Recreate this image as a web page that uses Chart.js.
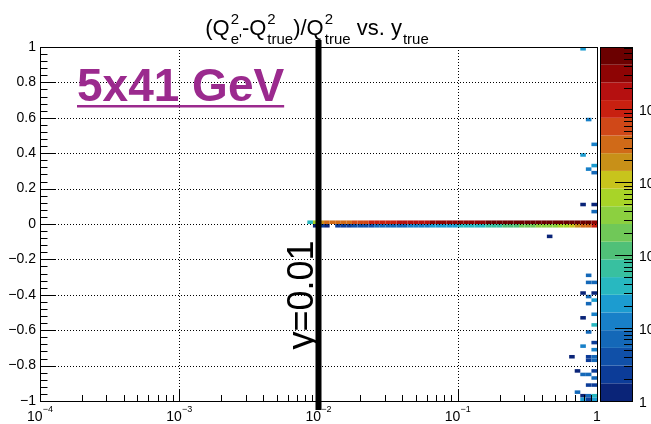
<!DOCTYPE html>
<html><head><meta charset="utf-8">
<script src="https://cdn.jsdelivr.net/npm/chart.js@4.4.1/dist/chart.umd.min.js"></script>
<style>html,body{margin:0;padding:0;background:#fff;overflow:hidden}canvas{display:block}</style>
</head><body>
<div style="width:651px;height:424px"><canvas id="c" width="651" height="424"></canvas></div>
<script>
// ---- binning ----
const xLogMin = -4, xLogMax = 0, nXBins = 100;
const yMin = -1, yMax = 1, nYBins = 100;
const zMin = 1, zMax = 72000;

// ---- tick labels ----
const xTickValues = [1e-4, 1e-3, 1e-2, 1e-1, 1];
const xTickBases  = ['10', '10', '10', '10', '1'];
const xTickExps   = ['−4', '−3', '−2', '−1', ''];
const yTickValues = [-1, -0.8, -0.6, -0.4, -0.2, 0, 0.2, 0.4, 0.6, 0.8, 1];
const yTickLabels = ['−1', '−0.8', '−0.6', '−0.4', '−0.2', '0', '0.2', '0.4', '0.6', '0.8', '1'];
const zTickValues = [1, 10, 100, 1000, 10000];
const zTickBases  = ['1', '10', '10', '10', '10'];
const zTickExps   = ['', '', '2', '3', '4'];

// ---- palette (low -> high) ----
const palette = ['#0a2478','#0c3c98','#1050a8','#1468b8','#1880c8','#1c9cd0','#28b8c0','#38c0a0',
                 '#50c078','#70c858','#8cd040','#a8d428','#c8c41c','#c89018','#d06a18','#d04818',
                 '#c82010','#b51010','#8e0404','#6b0000'];

// ---- histogram contents ----
// row y in [0, 0.02): x bins 48..99
const rowUpperStart = 48;
const rowUpper = [40,600,1500,2800,3100,3400,3800,4300,6000,6800,7500,8300,9200,10500,11500,12500,
  13500,15000,16500,19000,21000,23000,25000,27000,29000,30000,31000,33000,35000,37000,39000,41000,
  43000,46000,49000,52000,55000,57000,59000,60000,62000,63000,64000,65000,66000,66000,65000,64000,
  62000,58000,50000,40000];
// row y in [-0.02, 0): x bins 49..99
const rowLowerStart = 49;
const rowLower = [1,2,1,0,2,3,3,4,4,5,5,6,6,7,8,8,9,10,12,14,15,17,19,21,23,26,30,34,38,43,50,58,
  70,85,100,120,140,165,195,230,270,310,360,430,520,650,850,1900,2800,4000,10000];
// isolated cells: [x bin, y bin, count]
const isolated = [[97,99,25],[98,79,10],[99,72,10],[97,69,25],[98,65,10],[99,66,20],[99,64,8],
  [97,55,1],[99,55,1],[99,53,8],[91,46,1],[98,35,6],[98,33,8],[99,33,8],[97,30,1],[99,30,1],
  [98,29,6],[99,28,20],[98,27,8],[97,23,1],[99,24,10],[99,21,40],[98,19,8],[99,16,2],[97,15,15],
  [99,14,10],[95,12,1],[98,12,2],[98,11,2],[99,12,6],[99,11,8],[96,8,1],[97,7,6],[98,7,8],
  [99,8,2],[99,6,6],[98,4,2],[99,4,2],[96,2,6],[97,1,1],[98,1,8],[99,1,30],[98,0,2],[99,0,20],[97,0,20]];

const upperRowBin = 50, lowerRowBin = 49;
const cutValue = 0.01;

// build cell list
const dxLog = (xLogMax - xLogMin) / nXBins, dy = (yMax - yMin) / nYBins;
const cells = [];
function addCell(i, j, v) { if (v >= zMin) cells.push({i, j, v, x: Math.pow(10, xLogMin + (i + 0.5) * dxLog), y: yMin + (j + 0.5) * dy}); }
rowUpper.forEach((v, k) => addCell(rowUpperStart + k, upperRowBin, v));
rowLower.forEach((v, k) => addCell(rowLowerStart + k, lowerRowBin, v));
isolated.forEach(c => addCell(c[0], c[1], c[2]));

const FONT = '"Liberation Sans", Arial, Helvetica, sans-serif';

const drawPlugin = {
  id: 'root2d',
  beforeDraw(chart) {
    const ctx = chart.ctx;
    ctx.save(); ctx.fillStyle = '#fff'; ctx.fillRect(0, 0, chart.width, chart.height); ctx.restore();
  },
  afterDatasetsDraw(chart) {
    const ctx = chart.ctx, xs = chart.scales.x, ys = chart.scales.y, zs = chart.scales.z;
    const a = chart.chartArea;
    const nCol = palette.length;
    const colorFor = v => {
      const f = (zs.bottom - zs.getPixelForValue(v)) / (zs.bottom - zs.top);
      return palette[Math.max(0, Math.min(nCol - 1, Math.floor(f * nCol)))];
    };
    ctx.save();
    // cells
    cells.forEach(c => {
      const x0 = xs.getPixelForValue(Math.pow(10, xLogMin + c.i * dxLog));
      const x1 = xs.getPixelForValue(Math.pow(10, xLogMin + (c.i + 1) * dxLog));
      const y0 = ys.getPixelForValue(yMin + c.j * dy);
      const y1 = ys.getPixelForValue(yMin + (c.j + 1) * dy);
      ctx.fillStyle = colorFor(c.v);
      ctx.fillRect(x0, y1, x1 - x0, y0 - y1);
    });
    // grid (dotted)
    ctx.strokeStyle = '#000'; ctx.lineWidth = 1; ctx.setLineDash([1, 2]);
    xTickValues.forEach(v => {
      if (v <= xs.min || v >= xs.max) return;
      const px = Math.round(xs.getPixelForValue(v)) + 0.5;
      ctx.beginPath(); ctx.moveTo(px, a.top); ctx.lineTo(px, a.bottom); ctx.stroke();
    });
    yTickValues.forEach(v => {
      if (v <= ys.min || v >= ys.max) return;
      const py = Math.round(ys.getPixelForValue(v)) + 0.5;
      ctx.beginPath(); ctx.moveTo(a.left, py); ctx.lineTo(a.right, py); ctx.stroke();
    });
    ctx.setLineDash([]);
    // frame
    ctx.strokeRect(Math.round(a.left) + 0.5, Math.round(a.top) + 0.5, Math.round(a.right - a.left), Math.round(a.bottom - a.top));
    // x ticks (inward), log minor
    ctx.beginPath();
    for (let d = xLogMin; d < xLogMax; d++) {
      for (let m = 1; m <= 9; m++) {
        const v = m * Math.pow(10, d);
        const px = Math.round(xs.getPixelForValue(v)) + 0.5;
        const len = m === 1 ? 11 : 6;
        ctx.moveTo(px, a.bottom); ctx.lineTo(px, a.bottom - len);
      }
    }
    // y ticks
    for (let k = 0; k <= 50; k++) {
      const v = yMin + k * 0.04;
      const py = Math.round(ys.getPixelForValue(v)) + 0.5;
      const len = (k % 5 === 0) ? 15 : 7.5;
      ctx.moveTo(a.left, py); ctx.lineTo(a.left + len, py);
    }
    ctx.stroke();
    // colour bar
    const cbL = 600, cbR = 632;
    const zl0 = Math.log10(zMin), zl1 = Math.log10(zMax);
    for (let k = 0; k < nCol; k++) {
      const vb = Math.pow(10, zl0 + (zl1 - zl0) * k / nCol), vt = Math.pow(10, zl0 + (zl1 - zl0) * (k + 1) / nCol);
      const yb = zs.getPixelForValue(vb), yt = zs.getPixelForValue(vt);
      ctx.fillStyle = palette[k];
      ctx.fillRect(cbL, yt, cbR - cbL, yb - yt);
    }
    ctx.strokeStyle = '#000';
    ctx.strokeRect(cbL + 0.5, Math.round(zs.top) + 0.5, cbR - cbL, Math.round(zs.bottom - zs.top));
    ctx.beginPath();
    for (let d = 0; d < 5; d++) {
      for (let m = 1; m <= 9; m++) {
        const v = m * Math.pow(10, d);
        if (v > zMax) break;
        const py = Math.round(zs.getPixelForValue(v)) + 0.5;
        const len = m === 1 ? 17 : 8;
        ctx.moveTo(cbR, py); ctx.lineTo(cbR - len, py);
      }
    }
    ctx.stroke();
    // black line at y = 0.01
    const lx = xs.getPixelForValue(cutValue);
    ctx.fillStyle = '#000';
    ctx.fillRect(lx - 3, 40, 6, 370);

    // labels
    ctx.fillStyle = '#000';
    ctx.textBaseline = 'middle'; ctx.textAlign = 'right';
    ctx.font = '14px ' + FONT;
    yTickValues.forEach((v, k) => ctx.fillText(yTickLabels[k], 36, ys.getPixelForValue(v)));
    // x labels with exponents
    ctx.textBaseline = 'alphabetic'; ctx.textAlign = 'left';
    xTickValues.forEach((v, k) => {
      const px = xs.getPixelForValue(v);
      ctx.font = '14px ' + FONT; const wb = ctx.measureText(xTickBases[k]).width;
      ctx.font = '9px ' + FONT; const we = xTickExps[k] ? ctx.measureText(xTickExps[k]).width : 0;
      const x0 = px - (wb + we) / 2;
      ctx.font = '14px ' + FONT; ctx.fillText(xTickBases[k], x0, 421);
      if (we) { ctx.font = '9px ' + FONT; ctx.fillText(xTickExps[k], x0 + wb, 412); }
    });
    // colour bar labels
    zTickValues.forEach((v, k) => {
      const py = zs.getPixelForValue(v);
      ctx.font = '14px ' + FONT; ctx.fillText(zTickBases[k], 639, py + 6);
      if (zTickExps[k]) { const wb = ctx.measureText(zTickBases[k]).width; ctx.font = '10px ' + FONT; ctx.fillText(zTickExps[k], 639 + wb, py - 3); }
    });
    // title
    drawTitle(ctx, 317);
    // energy label
    ctx.fillStyle = '#9b2a8e';
    ctx.font = 'bold 46px ' + FONT;
    ctx.textAlign = 'left';
    const lbl = '5x41 GeV';
    const lw = ctx.measureText(lbl).width;
    ctx.fillText(lbl, 77, 101);
    ctx.fillRect(77, 105, lw, 2.5);
    // rotated cut label
    ctx.save();
    ctx.fillStyle = '#000';
    ctx.translate(313, 295);
    ctx.rotate(-Math.PI / 2);
    ctx.font = '36px ' + FONT; ctx.textAlign = 'center'; ctx.textBaseline = 'alphabetic';
    ctx.fillText('y=0.01', 0, 0);
    ctx.restore();
    ctx.restore();
  }
};

function drawTitle(ctx, cx) {
  const parts = [{t: '(Q'}, {sup: '2', sub: "e'"}, {t: '-Q'}, {sup: '2', sub: 'true'}, {t: ')/Q'},
                 {sup: '2', sub: 'true'}, {t: ' vs. y'}, {sub: 'true'}];
  const big = '22px ' + FONT, small = '15px ' + FONT;
  const widths = parts.map(p => {
    if (p.t) { ctx.font = big; return ctx.measureText(p.t).width; }
    ctx.font = small;
    return Math.max(p.sup ? ctx.measureText(p.sup).width : 0, p.sub ? ctx.measureText(p.sub).width : 0) + 1;
  });
  const total = widths.reduce((s, w) => s + w, 0);
  let x = cx - total / 2;
  ctx.fillStyle = '#000'; ctx.textAlign = 'left'; ctx.textBaseline = 'alphabetic';
  parts.forEach((p, k) => {
    if (p.t) { ctx.font = big; ctx.fillText(p.t, x, 35); }
    else {
      ctx.font = small;
      if (p.sup) ctx.fillText(p.sup, x + 1, 24);
      if (p.sub) ctx.fillText(p.sub, x + 1, 44);
    }
    x += widths[k];
  });
}

new Chart(document.getElementById('c'), {
  type: 'scatter',
  data: { datasets: [{ label: 'counts', data: cells, pointRadius: 0, pointHoverRadius: 0 }] },
  options: {
    responsive: false, animation: false, events: [],
    layout: { padding: { left: 40, top: 47, right: 54, bottom: 23 } },
    plugins: { legend: { display: false }, tooltip: { enabled: false }, title: { display: false } },
    scales: {
      x: { type: 'logarithmic', min: 1e-4, max: 1, display: false },
      y: { type: 'linear', min: yMin, max: yMax, display: false },
      z: { type: 'logarithmic', axis: 'y', position: 'right', min: zMin, max: zMax, display: false }
    }
  },
  plugins: [drawPlugin]
});
</script>
</body></html>
